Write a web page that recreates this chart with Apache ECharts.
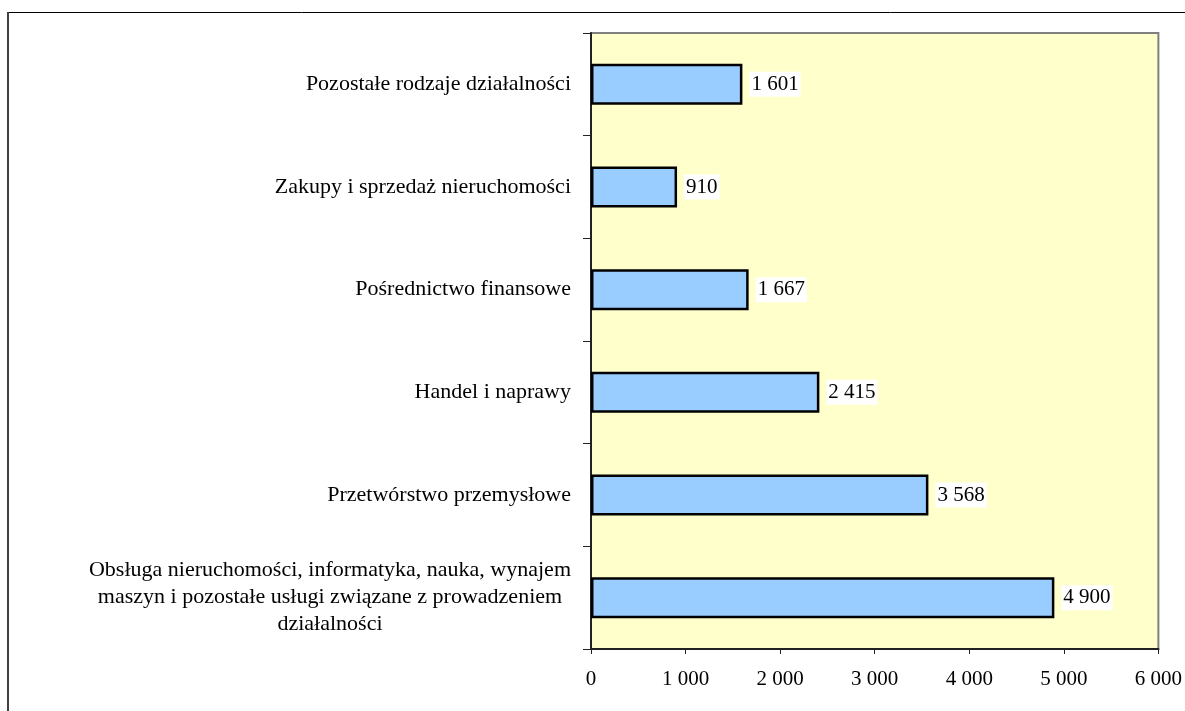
<!DOCTYPE html>
<html>
<head>
<meta charset="utf-8">
<script src="https://cdn.jsdelivr.net/npm/echarts@6/dist/echarts.min.js"></script>
<style>
html,body{margin:0;padding:0;background:#fff;}
#chart{width:1185px;height:711px;}
</style>
</head>
<body>
<div id="chart"></div>
<script>
// Categories listed bottom to top
const categories = [
  "Obsługa nieruchomości, informatyka, nauka, wynajem\nmaszyn i pozostałe usługi związane z prowadzeniem\ndziałalności",
  "Przetwórstwo przemysłowe",
  "Handel i naprawy",
  "Pośrednictwo finansowe",
  "Zakupy i sprzedaż nieruchomości",
  "Pozostałe rodzaje działalności"
];
const values = [4900, 3568, 2415, 1667, 910, 1601];
const xTicks = [0, 1000, 2000, 3000, 4000, 5000, 6000];

const FONT = "'Liberation Serif', 'Times New Roman', serif";
function fmt(v) {
  return String(v).replace(/\B(?=(\d{3})+(?!\d))/g, ' ');
}

const chart = echarts.init(document.getElementById('chart'), null, {renderer: 'canvas'});
chart.setOption({
  animation: false,
  backgroundColor: '#ffffff',
  graphic: [
    {type: 'line', shape: {x1: 7, y1: 12.5, x2: 1185, y2: 12.5}, style: {stroke: '#000', lineWidth: 1}, silent: true},
    {type: 'line', shape: {x1: 8, y1: 12, x2: 8, y2: 711}, style: {stroke: '#404040', lineWidth: 2}, silent: true}
  ],
  grid: {
    left: 591, top: 33, right: 26, bottom: 62,
    show: true, backgroundColor: '#FFFFCC', borderColor: '#808080', borderWidth: 2,
    containLabel: false
  },
  xAxis: {
    type: 'value',
    min: xTicks[0], max: xTicks[xTicks.length - 1], interval: 1000,
    axisLine: {show: true, lineStyle: {color: '#222', width: 2}},
    axisTick: {show: true, length: 5, lineStyle: {color: '#222', width: 1}},
    splitLine: {show: false},
    axisLabel: {
      margin: 20, color: '#000', fontFamily: FONT, fontSize: 21,
      formatter: v => fmt(v)
    }
  },
  yAxis: {
    type: 'category',
    data: categories,
    axisLine: {show: true, lineStyle: {color: '#222', width: 2}},
    axisTick: {show: true, length: 8, lineStyle: {color: '#222', width: 1}},
    splitLine: {show: false},
    axisLabel: {
      margin: 20, color: '#000', fontFamily: FONT, fontSize: 22,
      formatter: v => v.split('\n').map(l => '{c|' + l + '}').join('\n'),
      rich: {c: {align: 'center', fontFamily: FONT, fontSize: 22, color: '#000', lineHeight: 27}}
    }
  },
  series: [{
    type: 'bar',
    data: values,
    barCategoryGap: '60%',
    itemStyle: {color: '#99CCFF', borderColor: '#000', borderWidth: 2.5},
    label: {
      show: true, position: 'right', distance: 7,
      color: '#000', fontFamily: FONT, fontSize: 21,
      backgroundColor: '#ffffff', padding: [3, 2, 1, 2],
      formatter: p => fmt(p.value)
    }
  }]
});
</script>
</body>
</html>
